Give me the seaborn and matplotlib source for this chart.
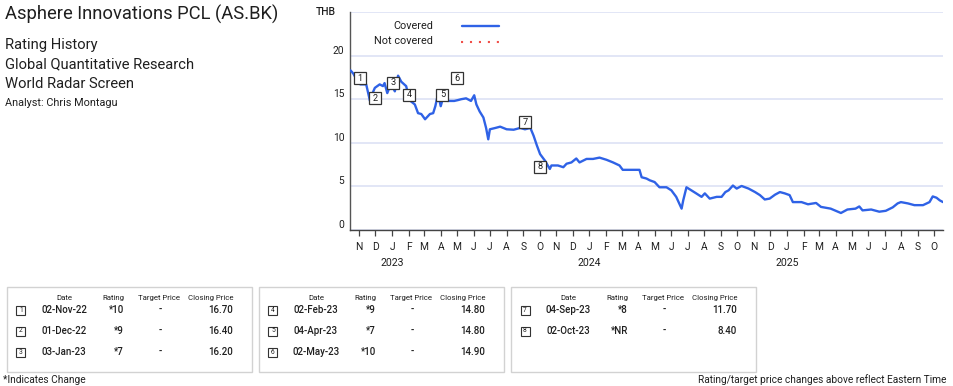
import numpy as np
import pandas as pd
import matplotlib
matplotlib.use("Agg")
import matplotlib.pyplot as plt
import matplotlib.dates as mdates
import matplotlib.transforms as mtransforms
from matplotlib.ticker import FuncFormatter
from matplotlib.patches import Rectangle
from matplotlib.lines import Line2D
from matplotlib import font_manager
import seaborn as sns

# ---------------- data ----------------
price_dates = [
    "2022-10-16", "2022-10-21", "2022-10-26", "2022-11-03", "2022-11-14", "2022-11-21",
    "2022-11-23", "2022-11-30", "2022-12-09", "2022-12-15", "2022-12-18", "2022-12-23",
    "2022-12-28", "2023-01-03", "2023-01-06", "2023-01-12", "2023-01-18", "2023-01-27",
    "2023-02-02", "2023-02-12", "2023-02-18", "2023-02-24", "2023-03-03", "2023-03-12",
    "2023-03-18", "2023-03-22", "2023-03-27", "2023-04-01", "2023-04-05", "2023-04-14",
    "2023-04-26", "2023-05-03", "2023-05-09", "2023-05-18", "2023-05-27", "2023-06-02",
    "2023-06-06", "2023-06-12", "2023-06-19", "2023-06-24", "2023-06-28", "2023-07-01",
    "2023-07-11", "2023-07-20", "2023-08-01", "2023-08-14", "2023-08-26", "2023-09-04",
    "2023-09-14", "2023-09-20", "2023-09-26", "2023-10-02", "2023-10-11", "2023-10-20",
    "2023-10-23", "2023-11-04", "2023-11-14", "2023-11-20", "2023-11-29", "2023-12-08",
    "2023-12-14", "2023-12-27", "2024-01-08", "2024-01-20", "2024-02-02", "2024-02-14",
    "2024-02-26", "2024-03-03", "2024-03-16", "2024-04-03", "2024-04-07", "2024-04-16",
    "2024-04-22", "2024-05-01", "2024-05-10", "2024-05-23", "2024-06-01", "2024-06-10",
    "2024-06-20", "2024-06-23", "2024-06-29", "2024-07-08", "2024-07-17", "2024-07-27",
    "2024-08-02", "2024-08-11", "2024-08-24", "2024-09-02", "2024-09-09", "2024-09-15",
    "2024-09-23", "2024-09-30", "2024-10-09", "2024-10-22", "2024-11-03", "2024-11-12",
    "2024-11-21", "2024-11-30", "2024-12-10", "2024-12-19", "2024-12-28", "2025-01-06",
    "2025-01-12", "2025-01-28", "2025-02-09", "2025-02-24", "2025-03-05", "2025-03-23",
    "2025-04-11", "2025-04-23", "2025-05-08", "2025-05-15", "2025-05-21", "2025-06-06",
    "2025-06-21", "2025-07-03", "2025-07-16", "2025-07-25", "2025-07-31", "2025-08-13",
    "2025-08-25", "2025-09-10", "2025-09-22", "2025-09-28", "2025-10-05", "2025-10-11",
    "2025-10-17",
]
prices = [
    18.3, 17.95, 17.4, 16.7, 16.7, 14.8,
    15.3, 16.3, 16.7, 16.5, 16.85, 15.7,
    16.5, 16.3, 15.9, 17.7, 17.0, 16.5,
    14.9, 14.4, 13.4, 13.3, 12.7, 13.3,
    13.4, 14.2, 15.6, 14.2, 15.1, 14.8,
    14.8, 14.9, 15.0, 15.1, 14.8, 15.45,
    14.4, 13.6, 12.9, 11.7, 10.4, 11.55,
    11.7, 11.85, 11.55, 11.5, 11.7, 11.55,
    11.7, 10.8, 9.7, 8.7, 7.95, 7.0,
    7.4, 7.4, 7.2, 7.6, 7.75, 8.2,
    7.75, 8.15, 8.15, 8.3, 8.05, 7.75,
    7.4, 6.9, 6.9, 6.9, 6.05, 5.9,
    5.7, 5.5, 4.9, 4.9, 4.55, 3.8,
    2.45, 3.4, 4.9, 4.55, 4.2, 3.8,
    4.2, 3.6, 3.8, 3.8, 4.35, 4.55,
    5.1, 4.75, 5.05, 4.75, 4.35, 4.0,
    3.5, 3.6, 4.05, 4.35, 4.2, 4.0,
    3.2, 3.2, 2.95, 3.1, 2.65, 2.45,
    1.95, 2.35, 2.45, 2.7, 2.25, 2.35,
    2.1, 2.2, 2.6, 3.05, 3.2, 3.05,
    2.85, 2.85, 3.2, 3.85, 3.7, 3.4,
    3.2,
]

rating_ids = ["1", "2", "3", "4", "5", "6", "7", "8"]
rating_dates = ["2022-11-02", "2022-12-01", "2023-01-03", "2023-02-02",
                "2023-04-04", "2023-05-02", "2023-09-04", "2023-10-02"]
rating_date_labels = ["02-Nov-22", "01-Dec-22", "03-Jan-23", "02-Feb-23",
                      "04-Apr-23", "02-May-23", "04-Sep-23", "02-Oct-23"]
ratings = ["*10", "*9", "*7", "*9", "*7", "*10", "*8", "*NR"]
target_prices = ["-", "-", "-", "-", "-", "-", "-", "-"]
closing_prices = [16.70, 16.40, 16.20, 14.80, 14.80, 14.90, 11.70, 8.40]

y_ticks = [0, 5, 10, 15, 20, 25]
y_tick_labels = ["0", "5", "10", "15", "20", ""]
years = [2023, 2024, 2025]

# vertical offsets (points) for the rating marker boxes on the chart
box_offsets_pt = [4.3, -8.0, 4.3, 4.3, 4.3, 15.6, 4.3, -7.3]

# ---------------- style ----------------
sns.set_theme(style="white")
avail = {f.name for f in font_manager.fontManager.ttflist}
FONT = next((f for f in ["Liberation Sans Narrow", "Roboto"] if f in avail), "DejaVu Sans")
plt.rcParams["font.family"] = [FONT, "DejaVu Sans"]

TXT = "#1f1f1f"
BLUE = "#2f62e6"
RED = "#f0504a"
GRID = "#dde2f5"
W, H = 954, 386

fig = plt.figure(figsize=(W / 100, H / 100), dpi=100)
fig.patch.set_facecolor("white")


def fx(x):
    return x / W


def fy(y):
    return 1 - y / H


ax = fig.add_axes([fx(350), fy(230), (943 - 350) / W, (230 - 12) / H])
df = pd.DataFrame({"date": pd.to_datetime(price_dates), "price": prices})
sns.lineplot(data=df, x="date", y="price", ax=ax, color=BLUE, linewidth=1.7,
             estimator=None, zorder=3)

ax.set_xlim(pd.Timestamp("2022-10-15"), pd.Timestamp("2025-10-17"))
ax.set_ylim(0, 25)
ax.set_yticks(y_ticks)
ax.set_yticklabels(y_tick_labels)
ax.grid(axis="y", color=GRID, linewidth=1.2)
ax.grid(axis="x", visible=False)
ax.set_axisbelow(True)
for s in ["top", "right"]:
    ax.spines[s].set_visible(False)
ax.spines["left"].set_color("#555555")
ax.spines["left"].set_linewidth(1.0)
ax.spines["bottom"].set_color("#444444")
ax.spines["bottom"].set_linewidth(1.0)
ax.set_xlabel("")
ax.set_ylabel("")
ax.tick_params(axis="y", length=0, pad=4, labelsize=7.4, labelcolor=TXT)
for lbl in ax.get_yticklabels():
    lbl.set_va("bottom")
ax.xaxis.set_major_locator(mdates.MonthLocator())
ax.xaxis.set_major_formatter(
    FuncFormatter(lambda v, p: mdates.num2date(v).strftime("%b")[0]))
ax.tick_params(axis="x", bottom=True, length=4, width=0.9, color="#444444", pad=5,
               labelsize=7.4, labelcolor=TXT)

blend = mtransforms.blended_transform_factory(ax.transData, ax.transAxes)
for yr in years:
    ax.text(pd.Timestamp(f"{yr}-01-01"), -(263 - 230) / 218, str(yr),
            transform=blend, ha="center", va="center", fontsize=7.6, color=TXT)

# rating marker boxes on chart
for rid, d, cp, off in zip(rating_ids, rating_dates, closing_prices, box_offsets_pt):
    tr = ax.transData + mtransforms.ScaledTranslation(0, off / 72, fig.dpi_scale_trans)
    ax.plot([pd.Timestamp(d)], [cp], marker="s", markersize=8.8, markerfacecolor="white",
            markeredgecolor="#333333", markeredgewidth=0.9, transform=tr, zorder=5,
            clip_on=False, linestyle="none")
    ax.text(pd.Timestamp(d), cp, rid, transform=tr, ha="center", va="center",
            fontsize=6.6, color=TXT, zorder=6)

# THB unit label
fig.text(fx(316), fy(12), "THB", ha="left", va="center", fontsize=7.4, color=TXT,
         fontweight="medium")

# legend
fig.text(fx(433), fy(26), "Covered", ha="right", va="center", fontsize=7.8, color=TXT)
fig.text(fx(433), fy(41), "Not covered", ha="right", va="center", fontsize=7.8, color=TXT)
fig.add_artist(Line2D([fx(462), fx(499)], [fy(26), fy(26)], color=BLUE, linewidth=1.7,
                      transform=fig.transFigure))
fig.add_artist(Line2D([fx(461), fx(501)], [fy(41.5), fy(41.5)], color=RED, linewidth=1.5,
                      linestyle=(0, (1, 3.3)), transform=fig.transFigure))

# titles
fig.text(fx(5), fy(14), "Asphere Innovations PCL (AS.BK)", ha="left", va="center",
         fontsize=13.2, color=TXT)
fig.text(fx(5), fy(45), "Rating History", ha="left", va="center", fontsize=10.6, color=TXT)
fig.text(fx(5), fy(64), "Global Quantitative Research", ha="left", va="center",
         fontsize=10.6, color=TXT)
fig.text(fx(5), fy(84), "World Radar Screen", ha="left", va="center", fontsize=10.6, color=TXT)
fig.text(fx(5), fy(103), "Analyst: Chris Montagu", ha="left", va="center",
         fontsize=7.8, color=TXT)

# rating tables
groups = [[0, 1, 2], [3, 4, 5], [6, 7]]
box_lefts = [7, 259, 511]
row_ys = [310, 331, 352]
for left, idxs in zip(box_lefts, groups):
    fig.add_artist(Rectangle((fx(left), fy(372)), (245) / W, (372 - 287) / H,
                             transform=fig.transFigure, facecolor="white",
                             edgecolor="#d2d2d2", linewidth=1.0))
    hs = 5.6
    fig.text(fx(left + 57), fy(298), "Date", ha="center", va="center", fontsize=hs, color=TXT)
    fig.text(fx(left + 106), fy(298), "Rating", ha="center", va="center", fontsize=hs, color=TXT)
    fig.text(fx(left + 152), fy(298), "Target Price", ha="center", va="center", fontsize=hs,
             color=TXT)
    fig.text(fx(left + 227), fy(298), "Closing Price", ha="right", va="center", fontsize=hs,
             color=TXT)
    for ry, i in zip(row_ys, idxs):
        fig.add_artist(Rectangle((fx(left + 9.5), fy(ry + 4.5)), 9 / W, 9 / H,
                                 transform=fig.transFigure, facecolor="white",
                                 edgecolor="#333333", linewidth=0.8))
        fig.text(fx(left + 14), fy(ry), rating_ids[i], ha="center", va="center",
                 fontsize=4.8, color=TXT)
        vs = 7.0
        fw = "medium"
        fig.text(fx(left + 57), fy(ry), rating_date_labels[i], ha="center", va="center",
                 fontsize=vs, color=TXT, fontweight=fw)
        fig.text(fx(left + 117), fy(ry), ratings[i], ha="right", va="center",
                 fontsize=vs, color=TXT, fontweight=fw)
        fig.text(fx(left + 153), fy(ry), target_prices[i], ha="center", va="center",
                 fontsize=vs, color=TXT, fontweight=fw)
        fig.text(fx(left + 226), fy(ry), f"{closing_prices[i]:.2f}", ha="right", va="center",
                 fontsize=vs, color=TXT, fontweight=fw)

# footers
fig.text(fx(3), fy(380), "*Indicates Change", ha="left", va="center", fontsize=7.3,
         color=TXT)
fig.text(fx(946), fy(380), "Rating/target price changes above reflect Eastern Time",
         ha="right", va="center", fontsize=7.3, color=TXT)

fig.savefig("out.png", dpi=100, facecolor="white")
